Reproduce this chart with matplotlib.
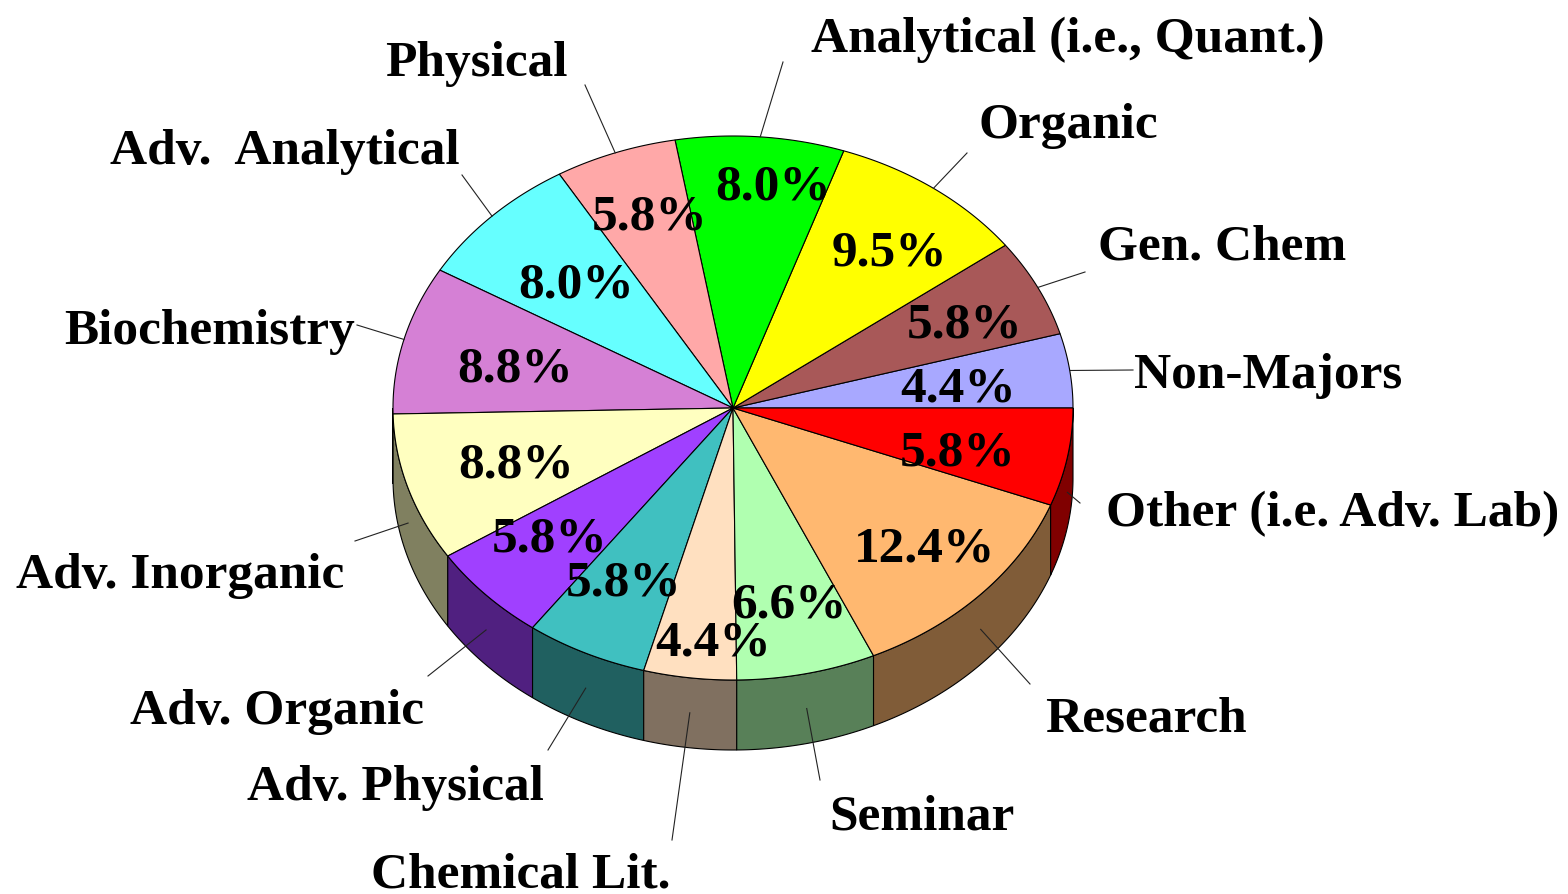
import numpy as np
import matplotlib
matplotlib.use("Agg")
import matplotlib.pyplot as plt
from matplotlib.patches import Polygon
from matplotlib.colors import to_rgb

# ---- data ----
categories = ["Non-Majors", "Gen. Chem", "Organic", "Analytical (i.e., Quant.)",
              "Physical", "Adv.  Analytical", "Biochemistry", "Adv. Inorganic",
              "Adv. Organic", "Adv. Physical", "Chemical Lit.", "Seminar",
              "Research", "Other (i.e. Adv. Lab)"]
values = [4.4, 5.8, 9.5, 8.0, 5.8, 8.0, 8.8, 8.8, 5.8, 5.8, 4.4, 6.6, 12.4, 5.8]
colors = ["#a8a8ff", "#a85858", "#ffff00", "#00ff00", "#ffa8a8", "#66ffff",
          "#d580d5", "#ffffc0", "#a040ff", "#40c0c0", "#ffe0c0", "#b0ffb0",
          "#ffb870", "#ff0000"]

# ---- layout (pixel coordinates) ----
cx, cy, rx, ry, depth = 733, 408, 340, 272, 70
text_dy = 4
label_pos = [(1268, 372), (1222, 244), (1068, 122), (1068, 36), (476, 60),
             (285, 148), (210, 328), (180, 572), (277, 708), (395, 784),
             (521, 872), (922, 813), (1146, 716), (1333, 510)]
line_outer = [(1133, 370), (1085, 272), (967, 153), (783, 62), (585, 85),
              (462, 175), (357, 325), (355, 541), (428, 676), (548, 750),
              (672, 840), (820, 780), (1030, 684), (1080, 503)]
pct_pos = [(958, 386), (965, 322), (889, 249), (773, 183), (650, 214),
           (576, 282), (515, 366), (516, 461), (550, 535), (624, 580),
           (713, 640), (789, 602), (925, 545), (958, 450)]

plt.rcParams['font.family'] = ['Liberation Serif', 'DejaVu Serif']
fig = plt.figure(figsize=(15.68, 8.94), dpi=100)
ax = fig.add_axes([0, 0, 1, 1])
ax.set_xlim(0, 1568)
ax.set_ylim(894, 0)
ax.axis('off')


def pt(theta_deg, dy=0.0):
    t = np.radians(theta_deg)
    return cx + rx * np.cos(t), cy - ry * np.sin(t) + dy


total = sum(values)
bounds = np.concatenate([[0], np.cumsum(values) / total * 360])

# side walls (front half: 180..360 deg)
for i, v in enumerate(values):
    a, b = bounds[i], bounds[i + 1]
    lo, hi = max(a, 180), min(b, 360)
    if hi <= lo:
        continue
    ts = np.linspace(lo, hi, 60)
    top = [pt(t) for t in ts]
    bot = [pt(t, depth) for t in ts[::-1]]
    side = tuple(0.5 * c for c in to_rgb(colors[i]))
    ax.add_patch(Polygon(top + bot, closed=True, facecolor=side,
                         edgecolor='black', linewidth=0.8, zorder=1))

# top faces
for i, v in enumerate(values):
    a, b = bounds[i], bounds[i + 1]
    ts = np.linspace(a, b, 80)
    poly = [(cx, cy)] + [pt(t) for t in ts]
    ax.add_patch(Polygon(poly, closed=True, facecolor=colors[i],
                         edgecolor='black', linewidth=0.8, zorder=2))

# leader lines and labels
for i, name in enumerate(categories):
    mid = (bounds[i] + bounds[i + 1]) / 2
    if 180 < mid < 360:
        px, py = pt(mid, depth / 2)
    else:
        px, py = pt(mid)
    ox, oy = line_outer[i]
    ax.plot([ox, px], [oy, py], color='#222222', linewidth=0.8, zorder=3)
    lx, ly = label_pos[i]
    ax.text(lx, ly + text_dy, name, ha='center', va='center', fontsize=37,
            fontweight='bold', zorder=4)
    qx, qy = pct_pos[i]
    ax.text(qx, qy + text_dy, f"{values[i]:.1f}%", ha='center', va='center',
            fontsize=37, fontweight='bold', zorder=4)

fig.savefig("out.png", dpi=100, facecolor='white')
